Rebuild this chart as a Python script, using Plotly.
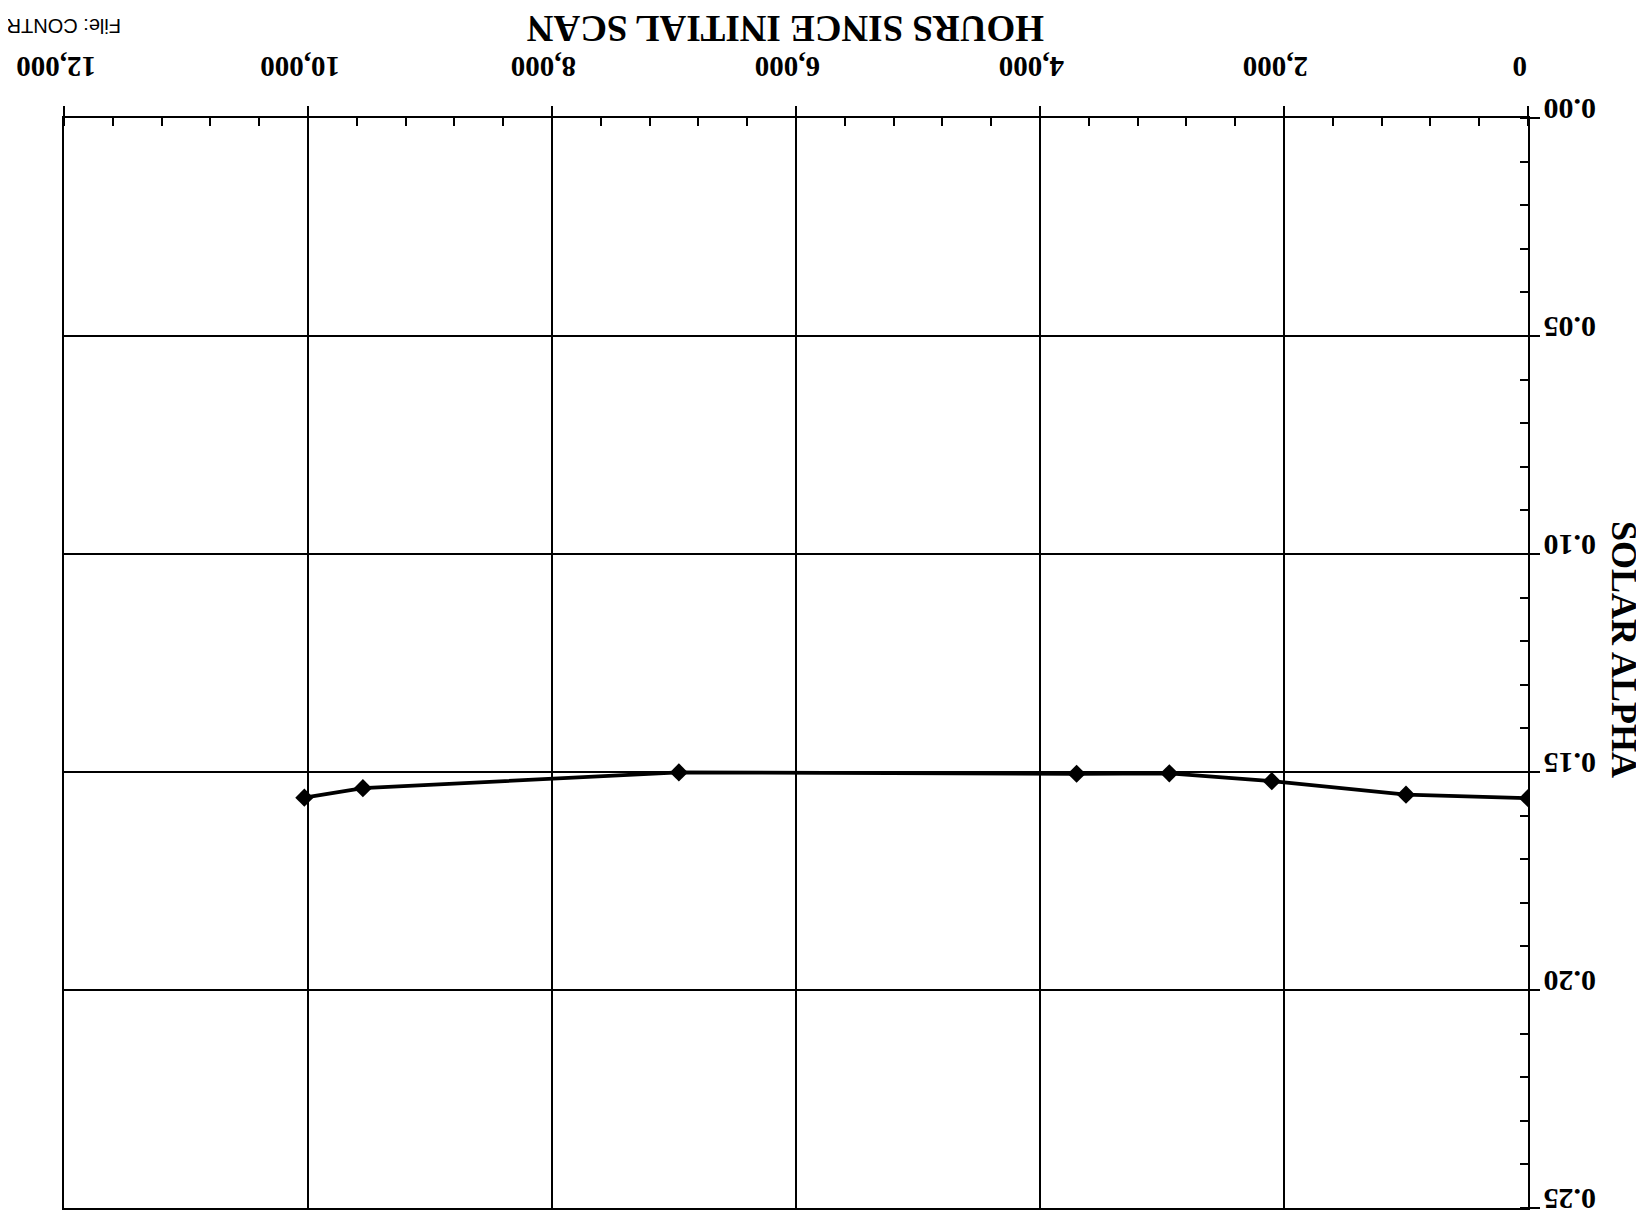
import plotly.graph_objects as go

# ---- data read from the (upside-down) scanned chart ----
hours = [0, 1000, 2100, 2940, 3700, 6960, 9550, 10030]
solar_alpha = [0.1560, 0.1552, 0.1521, 0.1503, 0.1504, 0.1501, 0.1537, 0.1559]

x_tick_values = [0, 2000, 4000, 6000, 8000, 10000, 12000]
x_tick_labels = ["0", "2,000", "4,000", "6,000", "8,000", "10,000", "12,000"]
y_tick_values = [0.00, 0.05, 0.10, 0.15, 0.20, 0.25]
y_tick_labels = ["0.00", "0.05", "0.10", "0.15", "0.20", "0.25"]

x_title = "HOURS SINCE INITIAL SCAN"
y_title = "SOLAR ALPHA"
file_note = "File: CONTR"

SERIF = "Liberation Serif, Times New Roman, serif"

fig = go.Figure()
fig.add_trace(go.Scatter(
    x=hours, y=solar_alpha, mode="lines+markers",
    line=dict(color="black", width=3.8),
    marker=dict(symbol="diamond", size=14, color="black"),
    showlegend=False, hoverinfo="x+y",
))

fig.update_xaxes(
    range=[12000, 0], side="top",
    tickvals=x_tick_values, showticklabels=False,
    ticks="outside", ticklen=10, tickwidth=1.5, tickcolor="black",
    minor=dict(dtick=400, ticks="inside", ticklen=8, tickwidth=1.5, tickcolor="black", showgrid=False),
    showgrid=True, gridcolor="black", gridwidth=1.5,
    showline=True, linecolor="black", linewidth=2, mirror=True,
    zeroline=False,
)
fig.update_yaxes(
    range=[0.25, 0], side="right",
    tickvals=y_tick_values, showticklabels=False,
    ticks="outside", ticklen=10, tickwidth=1.5, tickcolor="black",
    minor=dict(dtick=0.01, ticks="inside", ticklen=8, tickwidth=1.5, tickcolor="black", showgrid=False),
    showgrid=True, gridcolor="black", gridwidth=1.5,
    showline=True, linecolor="black", linewidth=2, mirror=True,
    zeroline=False,
)

annotations = []
for v, t in zip(x_tick_values, x_tick_labels):
    annotations.append(dict(
        x=v, xref="x", xshift=-8, y=1, yref="paper", yshift=51,
        text=t, textangle=180, showarrow=False,
        xanchor="center", yanchor="middle",
        font=dict(family=SERIF, size=29, color="black", weight="bold"),
    ))
for v, t in zip(y_tick_values, y_tick_labels):
    annotations.append(dict(
        x=1, xref="paper", xshift=42, y=v, yref="y", yshift=8,
        text=t, textangle=180, showarrow=False,
        xanchor="center", yanchor="middle",
        font=dict(family=SERIF, size=30, color="black", weight="bold"),
    ))
annotations.append(dict(
    x=0.5, xref="paper", xshift=-10, y=1, yref="paper", yshift=89,
    text=x_title, textangle=180, showarrow=False,
    xanchor="center", yanchor="middle",
    font=dict(family=SERIF, size=37, color="black", weight="bold"),
))
annotations.append(dict(
    x=1, xref="paper", xshift=96, y=0.5, yref="paper", yshift=14,
    text=y_title, textangle=90, showarrow=False,
    xanchor="center", yanchor="middle",
    font=dict(family=SERIF, size=36, color="black", weight="bold"),
))
annotations.append(dict(
    x=0, xref="paper", xshift=0, y=1, yref="paper", yshift=92,
    text=file_note, textangle=180, showarrow=False,
    xanchor="center", yanchor="middle",
    font=dict(family="Liberation Sans, Arial, sans-serif", size=20, color="black"),
))

fig.update_layout(
    width=1644, height=1218, autosize=False,
    margin=dict(l=56, r=124, t=110, b=18),
    paper_bgcolor="white", plot_bgcolor="white",
    annotations=annotations,
)

fig.write_html("out.html")
